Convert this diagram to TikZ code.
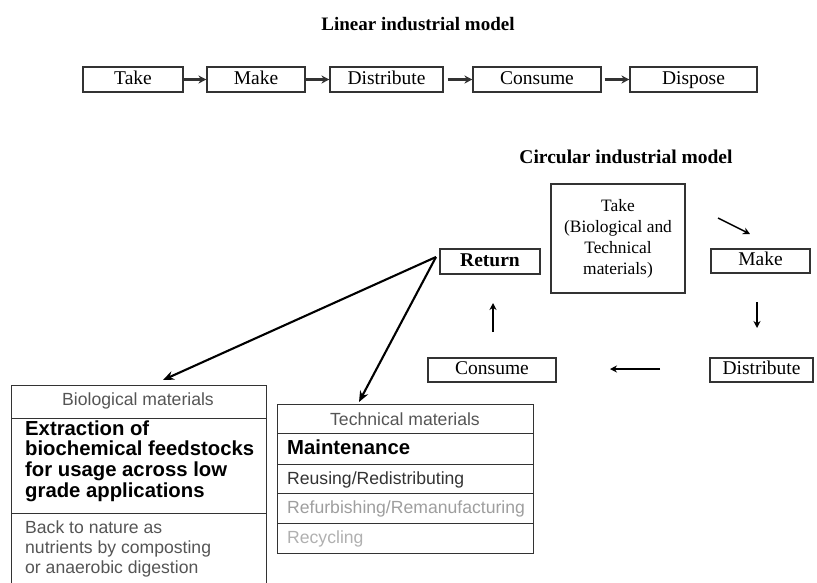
\documentclass[tikz,border=0pt]{standalone}
\usepackage{fontspec}
\setmainfont{Liberation Serif}
\setsansfont{Liberation Sans}
\usetikzlibrary{arrows.meta}
\definecolor{edge}{HTML}{333333}
\definecolor{midgray}{HTML}{555555}
\definecolor{lightA}{HTML}{9E9E9E}
\definecolor{lightB}{HTML}{B0B0B0}
\tikzset{
  linbox/.style={draw=edge, line width=1.1pt, inner sep=0pt, minimum height=25pt, text height=13pt, text depth=4pt, font=\fontsize{19.5}{21}\selectfont},
  circbox/.style={draw=edge, line width=1.1pt, inner sep=0pt, minimum height=24pt, text height=13pt, text depth=4pt, font=\fontsize{19.5}{21}\selectfont},
  linarrow/.style={-{Stealth[length=8pt,width=8pt]}, line width=2.3pt, draw=edge},
  circarrow/.style={-{Stealth[length=7pt,width=7pt]}, line width=1.4pt, draw=black},
  retarrow/.style={-{Stealth[length=11pt,width=9pt]}, line width=2.1pt, draw=black},
  tabline/.style={draw=edge, line width=1pt},
  sanstxt/.style={inner sep=0pt, font=\sffamily\fontsize{17.6}{20}\selectfont},
  boldtxt/.style={inner sep=0pt, anchor=base west, font=\sffamily\bfseries\fontsize{20.3}{21}\selectfont}
}
\begin{document}
\begin{tikzpicture}[x=1pt,y=-1pt]
\useasboundingbox (0,0) rectangle (817,582);
\clip (0,0) rectangle (817,582);
% Linear model
\node[anchor=base, inner sep=0pt, font=\bfseries\fontsize{19}{21}\selectfont] (lintitle) at (418,30) {Linear industrial model};
\node[linbox, minimum width=100pt] (ltake) at (133,79.5) {Take};
\node[linbox, minimum width=98pt] (lmake) at (256,79.5) {Make};
\node[linbox, minimum width=113pt] (ldist) at (386.5,79.5) {Distribute};
\node[linbox, minimum width=128pt] (lcons) at (537,79.5) {Consume};
\node[linbox, minimum width=127pt] (ldisp) at (693.5,79.5) {Dispose};
\draw[linarrow] (ltake) -- (lmake);
\draw[linarrow] (lmake) -- (ldist);
\draw[linarrow, shorten <=4pt] (ldist) -- (lcons);
\draw[linarrow, shorten <=3pt] (lcons) -- (ldisp);
% Circular model
\node[anchor=base, inner sep=0pt, font=\bfseries\fontsize{19.5}{21}\selectfont] (circtitle) at (626,163) {Circular industrial model};
\node[draw=edge, line width=1.1pt, inner sep=0pt, minimum width=134pt, minimum height=109pt, align=center, font=\fontsize{17.4}{21}\selectfont] (ctake) at (618,238.5) {Take\\(Biological and\\Technical\\materials)};
\node[circbox, minimum width=100pt, minimum height=25pt, font=\bfseries\fontsize{19.5}{21}\selectfont] (cret) at (490,261.5) {Return};
\node[circbox, minimum width=99pt] (cmake) at (760.5,261) {Make};
\node[circbox, minimum width=103pt] (cdist) at (761.5,370) {Distribute};
\node[circbox, minimum width=128pt] (ccons) at (492,370) {Consume};
\coordinate (a1s) at (718,218); \coordinate (a1e) at (750,234);
\coordinate (a2s) at (757,302); \coordinate (a2e) at (757,328);
\coordinate (a3s) at (660,369); \coordinate (a3e) at (610,369);
\coordinate (a4s) at (493,332); \coordinate (a4e) at (493,303);
\draw[circarrow] (a1s) -- (a1e);
\draw[circarrow] (a2s) -- (a2e);
\draw[circarrow] (a3s) -- (a3e);
\draw[circarrow] (a4s) -- (a4e);
% Return arrows
\coordinate (rs) at (436,257);
\coordinate (bioend) at (163,380);
\coordinate (techend) at (359,402);
\draw[retarrow] (rs) -- (bioend);
\draw[retarrow] (rs) -- (techend);
% Biological materials table
\draw[tabline] (11,600) -- (11,385) -- (266,385) -- (266,600);
\draw[tabline] (11,418) -- (266,418);
\draw[tabline] (11,513) -- (266,513);
\node[sanstxt, anchor=base, text=midgray] (biohead) at (138,405) {Biological materials};
\node[boldtxt] (bio1) at (25,435) {Extraction of};
\node[boldtxt] (bio2) at (25,455) {biochemical feedstocks};
\node[boldtxt] (bio3) at (25,476) {for usage across low};
\node[boldtxt] (bio4) at (25,497) {grade applications};
\node[sanstxt, anchor=base west, text=midgray] (bio5) at (25,533) {Back to nature as};
\node[sanstxt, anchor=base west, text=midgray] (bio6) at (25,553) {nutrients by composting};
\node[sanstxt, anchor=base west, text=midgray] (bio7) at (25,573) {or anaerobic digestion};
% Technical materials table
\draw[tabline] (277,404) rectangle (533,553);
\draw[tabline] (277,433) -- (533,433);
\draw[tabline] (277,464) -- (533,464);
\draw[tabline] (277,493) -- (533,493);
\draw[tabline] (277,523) -- (533,523);
\node[sanstxt, anchor=base, text=midgray] (techhead) at (405,425) {Technical materials};
\node[boldtxt] (tech1) at (287,454) {Maintenance};
\node[sanstxt, anchor=base west, text=edge] (tech2) at (287,484) {Reusing/Redistributing};
\node[sanstxt, anchor=base west, text=lightA] (tech3) at (287,513) {Refurbishing/Remanufacturing};
\node[sanstxt, anchor=base west, text=lightB] (tech4) at (287,543) {Recycling};
\end{tikzpicture}
\end{document}
